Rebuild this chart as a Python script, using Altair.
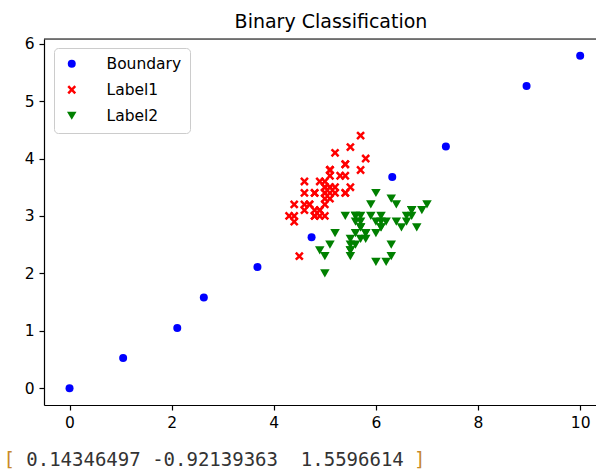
import altair as alt
import pandas as pd

# ---- data ----
boundary_x = [0.0, 1.05, 2.11, 2.63, 3.68, 4.74, 6.32, 7.37, 8.95, 10.0]
boundary_y = [0.0, 0.53, 1.05, 1.58, 2.11, 2.63, 3.68, 4.21, 5.26, 5.79]

label1_x = [5.1, 4.9, 4.7, 4.6, 5.0, 5.4, 4.6, 5.0, 4.4, 4.9, 5.4, 4.8, 4.8, 4.3, 5.8,
            5.7, 5.4, 5.1, 5.7, 5.1, 5.4, 5.1, 4.6, 5.1, 4.8, 5.0, 5.0, 5.2, 5.2, 4.7,
            4.8, 5.4, 5.2, 5.5, 4.9, 5.0, 5.5, 4.9, 4.4, 5.1, 5.0, 4.5, 4.4, 5.0, 5.1,
            4.8, 5.1, 4.6, 5.3, 5.0]
label1_y = [3.5, 3.0, 3.2, 3.1, 3.6, 3.9, 3.4, 3.4, 2.9, 3.1, 3.7, 3.4, 3.0, 3.0, 4.0,
            4.4, 3.9, 3.5, 3.8, 3.8, 3.4, 3.7, 3.6, 3.3, 3.4, 3.0, 3.4, 3.5, 3.4, 3.2,
            3.1, 3.4, 4.1, 4.2, 3.1, 3.2, 3.5, 3.6, 3.0, 3.4, 3.5, 2.3, 3.2, 3.5, 3.8,
            3.0, 3.8, 3.2, 3.7, 3.3]

label2_x = [7.0, 6.4, 6.9, 5.5, 6.5, 5.7, 6.3, 4.9, 6.6, 5.2, 5.0, 5.9, 6.0, 6.1, 5.6,
            6.7, 5.6, 5.8, 6.2, 5.6, 5.9, 6.1, 6.3, 6.1, 6.4, 6.6, 6.8, 6.7, 6.0, 5.7,
            5.5, 5.5, 5.8, 6.0, 5.4, 6.0, 6.7, 6.3, 5.6, 5.5, 5.5, 6.1, 5.8, 5.0, 5.6,
            5.7, 5.7, 6.2, 5.1, 5.7]
label2_y = [3.2, 3.2, 3.1, 2.3, 2.8, 2.8, 3.3, 2.4, 2.9, 2.7, 2.0, 3.0, 2.2, 2.9, 2.9,
            3.1, 3.0, 2.7, 2.2, 2.5, 3.2, 2.8, 2.5, 2.8, 2.9, 3.0, 2.8, 3.0, 2.9, 2.6,
            2.4, 2.4, 2.7, 2.7, 3.0, 3.4, 3.1, 2.3, 3.0, 2.5, 2.6, 3.0, 2.6, 2.3, 2.7,
            3.0, 2.9, 2.9, 2.5, 2.8]

series_names = ["Boundary", "Label1", "Label2"]
series_colors = ["#0000ff", "#ff0000", "#008000"]
x_ticks = [0, 2, 4, 6, 8, 10]
y_ticks = [0, 1, 2, 3, 4, 5, 6]
title_text = "Binary Classification"
weights_text = "0.14346497 -0.92139363  1.5596614"

# ---- build table ----
rows = []
for name, xs, ys in [("Boundary", boundary_x, boundary_y),
                     ("Label1", label1_x, label1_y),
                     ("Label2", label2_x, label2_y)]:
    for a, b in zip(xs, ys):
        rows.append({"x": a, "y": b, "series": name})
df = pd.DataFrame(rows)

X_PATH = ("M-1,-0.6L-0.6,-1L0,-0.4L0.6,-1L1,-0.6L0.4,0L1,0.6L0.6,1L0,0.4"
          "L-0.6,1L-1,0.6L-0.4,0Z")

W, H = 552, 366
FONT = "DejaVu Sans"

xscale = alt.Scale(domain=[-0.5, 10.31], nice=False, zero=False)
yscale = alt.Scale(domain=[-0.29, 6.08], nice=False, zero=False)

legend_cfg = dict(title=None, orient="none", legendX=10, legendY=9,
                  fillColor="white", strokeColor="#cccccc",
                  cornerRadius=4, padding=8, symbolSize=64,
                  labelFontSize=15.5, labelFont=FONT,
                  labelColor="#000", rowPadding=9,
                  symbolOffset=2, labelOffset=27)

points = alt.Chart(df).mark_point(filled=True, opacity=1).encode(
    x=alt.X("x:Q", scale=xscale,
            axis=alt.Axis(values=x_ticks, title=None, grid=False, labelFontSize=15.5,
                          labelFont=FONT, labelColor="#000", tickColor="#000",
                          domainColor="#000", tickSize=5, labelPadding=5,
                          domainWidth=1.2, tickWidth=1.2, labelFlush=False)),
    y=alt.Y("y:Q", scale=yscale,
            axis=alt.Axis(values=y_ticks, title=None, grid=False, labelFontSize=15.5,
                          labelFont=FONT, labelColor="#000", tickColor="#000",
                          domainColor="#000", tickSize=5, labelPadding=5,
                          domainWidth=1.2, tickWidth=1.2, labelFlush=False)),
    color=alt.Color("series:N",
                    scale=alt.Scale(domain=series_names, range=series_colors),
                    legend=alt.Legend(**legend_cfg)),
    shape=alt.Shape("series:N",
                    scale=alt.Scale(domain=series_names,
                                    range=["circle", X_PATH, "triangle-down"]),
                    legend=alt.Legend(**legend_cfg)),
    size=alt.Size("series:N",
                  scale=alt.Scale(domain=series_names, range=[64, 90, 64]),
                  legend=None),
)

top_spine = alt.Chart(pd.DataFrame({"v": [0]})).mark_rule(
    color="#000", strokeWidth=1.2).encode(
    x=alt.value(0), x2=alt.value(W), y=alt.value(0))

title = alt.Chart(pd.DataFrame({"t": [title_text]})).mark_text(
    font=FONT, fontSize=19, color="#000", align="center", baseline="middle").encode(
    text="t:N", x=alt.value(287), y=alt.value(-17))

NB = "\u00a0"
FS_MONO = 19
char_w = FS_MONO * 0.6
x0 = -40.5
mid_text = weights_text.replace(" ", NB)
bottom_left = alt.Chart(pd.DataFrame({"t": ["["]})).mark_text(
    font="DejaVu Sans Mono", fontSize=FS_MONO, color="#c8892a", align="left",
    baseline="middle").encode(text="t:N", x=alt.value(x0), y=alt.value(421))
bottom_mid = alt.Chart(pd.DataFrame({"t": [mid_text]})).mark_text(
    font="DejaVu Sans Mono", fontSize=FS_MONO, color="#333333", align="left",
    baseline="middle").encode(text="t:N", x=alt.value(x0 + 2 * char_w), y=alt.value(421))
bottom_right = alt.Chart(pd.DataFrame({"t": ["]"]})).mark_text(
    font="DejaVu Sans Mono", fontSize=FS_MONO, color="#c8892a", align="left",
    baseline="middle").encode(text="t:N",
                              x=alt.value(x0 + char_w * (3 + len(weights_text))),
                              y=alt.value(421))

chart = alt.layer(points, top_spine, title, bottom_left, bottom_mid, bottom_right).properties(
    width=W, height=H,
    autosize=alt.AutoSizeParams(type="none"),
    padding={"left": 44, "top": 39, "right": 0, "bottom": 66},
).configure_view(stroke=None).configure(background="white")

chart.save("out.html", embed_options={"renderer": "svg", "actions": False})
